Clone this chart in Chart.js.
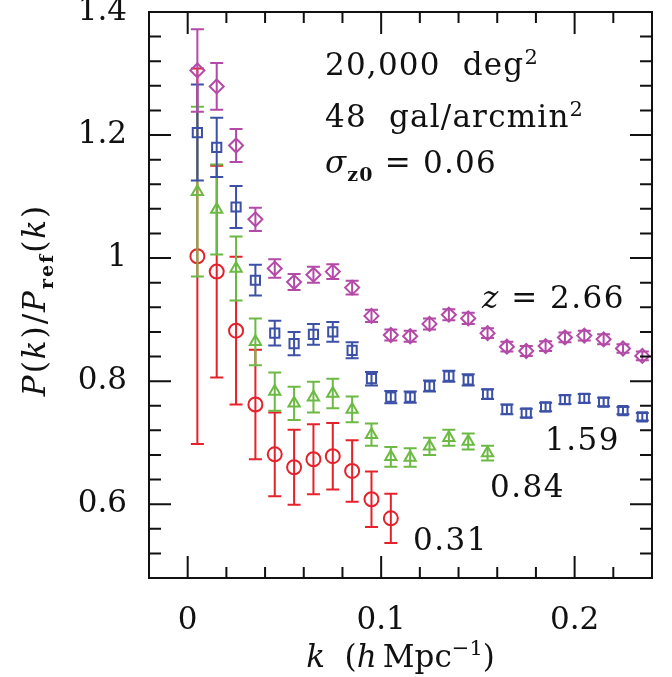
<!DOCTYPE html>
<html>
<head>
<meta charset="utf-8">
<script src="https://cdn.jsdelivr.net/npm/chart.js@4.4.1/dist/chart.umd.min.js"></script>
<style>
  html, body { margin: 0; padding: 0; background: #fff; }
  #chart { display: block; }
</style>
</head>
<body>
<canvas id="chart" width="672" height="677"></canvas>
<script>
// k bin centres (h/Mpc)
const kBins = [0.005, 0.015, 0.025, 0.035, 0.045, 0.055, 0.065, 0.075, 0.085, 0.095, 0.105, 0.115,
               0.125, 0.135, 0.145, 0.155, 0.165, 0.175, 0.185, 0.195, 0.205, 0.215, 0.225, 0.235];

// P(k)/Pref(k) and 1-sigma errors for each redshift slice
const z266 = [1.305, 1.279, 1.183, 1.063, 0.983, 0.961, 0.973, 0.978, 0.952, 0.906, 0.875, 0.873,
              0.893, 0.908, 0.902, 0.878, 0.856, 0.849, 0.857, 0.871, 0.874, 0.868, 0.853, 0.841];
const z266Err = [0.067, 0.038, 0.027, 0.019, 0.015, 0.013, 0.013, 0.012, 0.011, 0.010, 0.009, 0.009,
                 0.009, 0.009, 0.009, 0.008, 0.008, 0.008, 0.008, 0.008, 0.008, 0.008, 0.007, 0.007];

const z159 = [1.204, 1.180, 1.083, 0.964, 0.878, 0.861, 0.876, 0.880, 0.850, 0.804, 0.774, 0.774,
              0.792, 0.808, 0.802, 0.779, 0.754, 0.748, 0.758, 0.770, 0.772, 0.766, 0.752, 0.742];
const z159Err = [0.078, 0.048, 0.034, 0.025, 0.020, 0.019, 0.017, 0.016, 0.013, 0.011, 0.010, 0.009,
                 0.009, 0.009, 0.009, 0.008, 0.008, 0.007, 0.007, 0.007, 0.007, 0.007, 0.006, 0.006];

const z084 = [1.108, 1.079, 0.983, 0.864, 0.783, 0.764, 0.774, 0.780, 0.754, 0.713, 0.677, 0.676,
              0.694, 0.708, 0.702, 0.683];
const z084Err = [0.138, 0.073, 0.052, 0.038, 0.031, 0.027, 0.025, 0.024, 0.021, 0.018, 0.016, 0.015,
                 0.014, 0.013, 0.013, 0.012];

const z031 = [1.003, 0.978, 0.882, 0.762, 0.681, 0.660, 0.673, 0.678, 0.654, 0.608, 0.577];
const z031Err = [0.305, 0.172, 0.120, 0.089, 0.068, 0.061, 0.057, 0.054, 0.050, 0.045, 0.040];

const SERIF = '"DejaVu Serif", serif';
const INK = '#111';
const CAP = 6.5;

function points(vals, errs) {
  return vals.map((v, i) => ({ x: kBins[i], y: v, err: errs[i] }));
}

function series(vals, errs, color, style, radius) {
  return {
    data: points(vals, errs),
    borderColor: color,
    backgroundColor: 'rgba(0,0,0,0)',
    pointStyle: style,
    pointRadius: radius,
    pointBorderWidth: 2,
    showLine: false
  };
}

function isMultiple(v, step) {
  const r = v / step;
  return Math.abs(r - Math.round(r)) < 1e-6;
}

// draw a run of text pieces: [text, font, dy]
function drawRich(ctx, parts, x, y, align, spacing) {
  ctx.letterSpacing = (spacing || 0) + 'px';
  let total = 0;
  parts.forEach(p => { ctx.font = p[1]; total += ctx.measureText(p[0]).width; });
  let cx = align === 'center' ? x - total / 2 : align === 'right' ? x - total : x;
  parts.forEach(p => {
    ctx.font = p[1];
    ctx.fillText(p[0], cx, y + (p[2] || 0));
    cx += ctx.measureText(p[0]).width;
  });
  ctx.letterSpacing = '0px';
}

const reg = `31px ${SERIF}`;
const ita = `italic 31px ${SERIF}`;
const sup = `21px ${SERIF}`;
const sub = `bold 19px ${SERIF}`;

// error bars go under each dataset's markers
const errorBars = {
  id: 'errorBars',
  beforeDatasetDraw(chart, args) {
    const ds = chart.data.datasets[args.index];
    const { ctx, scales: { x, y } } = chart;
    ctx.save();
    ctx.strokeStyle = ds.borderColor;
    ctx.lineWidth = 2;
    ds.data.forEach(pt => {
      const px = x.getPixelForValue(pt.x);
      const top = y.getPixelForValue(pt.y + pt.err);
      const bot = y.getPixelForValue(pt.y - pt.err);
      ctx.beginPath();
      ctx.moveTo(px, top); ctx.lineTo(px, bot);
      ctx.moveTo(px - CAP, top); ctx.lineTo(px + CAP, top);
      ctx.moveTo(px - CAP, bot); ctx.lineTo(px + CAP, bot);
      ctx.stroke();
    });
    ctx.restore();
  }
};

// box, inward ticks on all four sides, and the annotations
const frame = {
  id: 'frame',
  afterDraw(chart) {
    const { ctx, chartArea: a, scales: { x, y } } = chart;
    ctx.save();
    ctx.strokeStyle = INK;
    ctx.lineWidth = 2;
    ctx.strokeRect(a.left, a.top, a.right - a.left, a.bottom - a.top);

    ctx.beginPath();
    x.ticks.forEach(t => {
      const px = x.getPixelForValue(t.value);
      const len = isMultiple(t.value, 0.1) ? 22 : 11;
      ctx.moveTo(px, a.bottom); ctx.lineTo(px, a.bottom - len);
      ctx.moveTo(px, a.top); ctx.lineTo(px, a.top + len);
    });
    y.ticks.forEach(t => {
      const py = y.getPixelForValue(t.value);
      const len = isMultiple(t.value, 0.2) ? 22 : 12;
      ctx.moveTo(a.left, py); ctx.lineTo(a.left + len, py);
      ctx.moveTo(a.right, py); ctx.lineTo(a.right - len, py);
    });
    ctx.stroke();

    ctx.fillStyle = INK;
    ctx.textBaseline = 'alphabetic';

    drawRich(ctx, [['20,000 ', reg], [' deg', reg], ['2', sup, -11]], 325, 75, 'left', 1.2);
    drawRich(ctx, [['48 ', reg], [' gal/arcmin', reg], ['2', sup, -11]], 325, 127, 'left', 1.2);
    drawRich(ctx, [['\u03c3', ita], ['z0', sub, 8], [' = 0.06', reg]], 325, 173, 'left', 1.2);

    drawRich(ctx, [['z', ita], [' = 2.66', reg]], 625, 308, 'right', 1.5);
    drawRich(ctx, [['1.59', reg]], 620, 450, 'right', 1.5);
    drawRich(ctx, [['0.84', reg]], 490, 497, 'left', 1.5);
    drawRich(ctx, [['0.31', reg]], 413, 550, 'left', 1.5);

    // axis titles
    drawRich(ctx, [['k', ita], ['  (', reg], ['h', ita], ['\u2009Mpc', reg], ['\u22121', sup, -12], [')', reg]],
      (a.left + a.right) / 2, 667, 'center', 0);

    ctx.translate(45, 300);
    ctx.rotate(-Math.PI / 2);
    drawRich(ctx, [['P', ita], ['(', reg], ['k', ita], [')', reg], ['/', reg], ['P', ita],
      ['ref', sub, 8], ['(', reg], ['k', ita], [')', reg]], 0, 0, 'center', 2);
    ctx.restore();
  }
};

new Chart(document.getElementById('chart'), {
  type: 'scatter',
  data: {
    datasets: [
      series(z266, z266Err, '#b44aa8', 'rectRot', 7),
      series(z159, z159Err, '#3b50a6', 'rect', 6.5),
      series(z084, z084Err, '#6cba43', 'triangle', 6.5),
      series(z031, z031Err, '#e5222b', 'circle', 7)
    ]
  },
  options: {
    responsive: false,
    animation: false,
    devicePixelRatio: 1,
    layout: { padding: { top: 12, right: 20, left: 0, bottom: 0 } },
    plugins: { legend: { display: false }, tooltip: { enabled: false } },
    scales: {
      x: {
        type: 'linear',
        min: -0.02,
        max: 0.24,
        grid: { display: false, drawTicks: false },
        border: { display: false },
        ticks: {
          stepSize: 0.02,
          autoSkip: false,
          maxRotation: 0,
          minRotation: 0,
          padding: 24,
          color: INK,
          font: { family: SERIF, size: 31 },
          callback: v => isMultiple(v, 0.1) ? String(Math.round(v * 10) / 10) : ''
        },
        afterFit(scale) {
          scale.height = 99;
          scale.paddingLeft = 0;
          scale.paddingRight = 0;
        }
      },
      y: {
        type: 'linear',
        min: 0.48,
        max: 1.4,
        grid: { display: false, drawTicks: false },
        border: { display: false },
        ticks: {
          stepSize: 0.04,
          autoSkip: false,
          padding: 22,
          color: INK,
          font: { family: SERIF, size: 31 },
          callback: v => isMultiple(v, 0.2) ? String(Math.round(v * 10) / 10) : ''
        },
        afterFit(scale) {
          scale.width = 149;
          scale.paddingTop = 0;
          scale.paddingBottom = 0;
        }
      }
    }
  },
  plugins: [errorBars, frame]
});
</script>
</body>
</html>
